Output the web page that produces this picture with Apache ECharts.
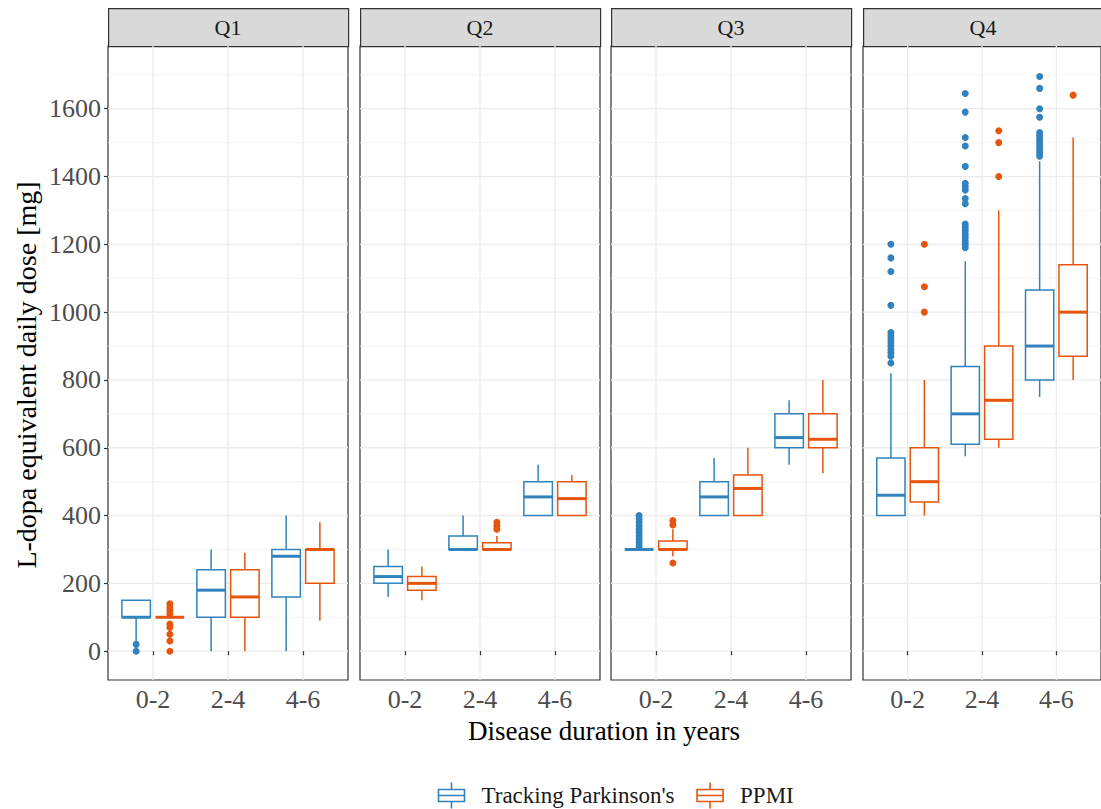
<!DOCTYPE html>
<html>
<head>
<meta charset="utf-8">
<script src="https://cdn.jsdelivr.net/npm/echarts@6/dist/echarts.min.js"></script>
<style>html,body{margin:0;padding:0;background:#fff;}#c{width:1101px;height:809px;}</style>
</head>
<body>
<div id="c"></div>
<script>
// ---------------- data ----------------
const categories = ['0-2', '2-4', '4-6'];
const panels = ['Q1', 'Q2', 'Q3', 'Q4'];
const seriesNames = ["Tracking Parkinson's", 'PPMI'];
const yTicks = [0, 200, 400, 600, 800, 1000, 1200, 1400, 1600];
const yMinor = [100, 300, 500, 700, 900, 1100, 1300, 1500, 1700];

// box stats per category: [lower whisker, Q1, median, Q3, upper whisker]
const tpQ1 = [[30, 100, 100, 150, 150], [0, 100, 180, 240, 300], [0, 160, 280, 300, 400]];
const ppQ1 = [[100, 100, 100, 100, 100], [0, 100, 160, 240, 290], [90, 200, 300, 300, 380]];
const tpQ2 = [[160, 200, 220, 250, 300], [300, 300, 300, 340, 400], [400, 400, 455, 500, 550]];
const ppQ2 = [[150, 180, 200, 220, 250], [300, 300, 300, 320, 340], [400, 400, 450, 500, 520]];
const tpQ3 = [[300, 300, 300, 300, 300], [400, 400, 455, 500, 570], [550, 600, 630, 700, 740]];
const ppQ3 = [[280, 300, 300, 325, 360], [400, 400, 480, 520, 600], [525, 600, 625, 700, 800]];
const tpQ4 = [[400, 400, 460, 570, 820], [575, 610, 700, 840, 1150], [750, 800, 900, 1065, 1445]];
const ppQ4 = [[400, 440, 500, 600, 800], [600, 625, 740, 900, 1300], [800, 870, 1000, 1140, 1515]];

// outliers per category
const tpQ1Out = [[0, 20], [], []];
const ppQ1Out = [[140, 130, 120, 110, 80, 70, 50, 30, 0], [], []];
const tpQ2Out = [[], [], []];
const ppQ2Out = [[], [360, 370, 380], []];
const tpQ3Out = [[310, 320, 330, 340, 350, 360, 370, 380, 390, 400], [], []];
const ppQ3Out = [[260, 372, 385], [], []];
const tpQ4Out = [[850, 870, 880, 890, 900, 910, 920, 930, 940, 1020, 1120, 1160, 1200],
                 [1190, 1200, 1210, 1220, 1230, 1240, 1250, 1260, 1320, 1335, 1360, 1370, 1380, 1430, 1490, 1515, 1590, 1645],
                 [1460, 1470, 1480, 1490, 1500, 1510, 1520, 1530, 1575, 1600, 1660, 1695]];
const ppQ4Out = [[1000, 1075, 1200], [1400, 1500, 1535], [1640]];

const tpBoxes = [tpQ1, tpQ2, tpQ3, tpQ4];
const ppBoxes = [ppQ1, ppQ2, ppQ3, ppQ4];
const tpOuts = [tpQ1Out, tpQ2Out, tpQ3Out, tpQ4Out];
const ppOuts = [ppQ1Out, ppQ2Out, ppQ3Out, ppQ4Out];

// ---------------- style ----------------
const COLORS = ['#3182BD', '#E6550D'];
const OFFS = [-0.225, 0.225];
const HW = 0.19;
const FONT = '"Liberation Serif", "DejaVu Serif", serif';
const GRID_LEFT = [108, 360, 611, 863];
const GRID_W = 240, GRID_TOP = 46, GRID_H = 634;

const chart = echarts.init(document.getElementById('c'), null, { renderer: 'svg' });

function boxRender(color, off) {
  return function (params, api) {
    const c = api.value(0) + off;
    const mn = api.value(1), q1 = api.value(2), md = api.value(3), q3 = api.value(4), mx = api.value(5);
    const xl = api.coord([c - HW, 0])[0], xr = api.coord([c + HW, 0])[0], xc = api.coord([c, 0])[0];
    const y = v => api.coord([c, v])[1];
    return {
      type: 'group',
      children: [
        { type: 'line', shape: { x1: xc, y1: y(q3), x2: xc, y2: y(mx) }, style: { stroke: color, lineWidth: 1.5 } },
        { type: 'line', shape: { x1: xc, y1: y(q1), x2: xc, y2: y(mn) }, style: { stroke: color, lineWidth: 1.5 } },
        { type: 'rect', shape: { x: xl, y: y(q3), width: xr - xl, height: y(q1) - y(q3) }, style: { fill: '#fff', stroke: color, lineWidth: 1.5 } },
        { type: 'line', shape: { x1: xl, y1: y(md), x2: xr, y2: y(md) }, style: { stroke: color, lineWidth: 3 } }
      ]
    };
  };
}
function outRender(color, off) {
  return function (params, api) {
    const p = api.coord([api.value(0) + off, api.value(1)]);
    return { type: 'circle', shape: { cx: p[0], cy: p[1], r: 3.5 }, style: { fill: color } };
  };
}
function gridRender(params, api) {
  const cs = params.coordSys;
  const ch = [];
  yMinor.forEach(v => {
    const yy = api.coord([2, v])[1];
    ch.push({ type: 'line', shape: { x1: cs.x, y1: yy, x2: cs.x + cs.width, y2: yy }, style: { stroke: '#F2F2F2', lineWidth: 0.8 } });
  });
  yTicks.forEach(v => {
    const yy = api.coord([2, v])[1];
    ch.push({ type: 'line', shape: { x1: cs.x, y1: yy, x2: cs.x + cs.width, y2: yy }, style: { stroke: '#EBEBEB', lineWidth: 1.3 } });
  });
  categories.forEach((_, i) => {
    const xx = api.coord([i + 1, 0])[0];
    ch.push({ type: 'line', shape: { x1: xx, y1: cs.y, x2: xx, y2: cs.y + cs.height }, style: { stroke: '#EBEBEB', lineWidth: 1.3 } });
  });
  return { type: 'group', children: ch };
}

const grids = [], xAxes = [], yAxes = [], series = [], graphics = [];
panels.forEach((name, p) => {
  grids.push({ left: GRID_LEFT[p], top: GRID_TOP, width: GRID_W, height: GRID_H, show: true, borderColor: '#333333', borderWidth: 1.2, backgroundColor: '#fff', containLabel: false });
  xAxes.push({
    gridIndex: p, type: 'value', min: 0.4, max: 3.6,
    axisLine: { show: false }, splitLine: { show: false },
    axisTick: { show: true, length: 4, lineStyle: { color: '#333333', width: 1.2 }, customValues: [1, 2, 3] },
    axisLabel: { customValues: [1, 2, 3], formatter: v => categories[Math.round(v) - 1] || '', color: '#4D4D4D', fontFamily: FONT, fontSize: 26, margin: 6 }
  });
  yAxes.push({
    gridIndex: p, type: 'value', min: -85, max: 1785,
    axisLine: { show: false }, splitLine: { show: false },
    axisTick: { show: p === 0, length: 4, lineStyle: { color: '#333333', width: 1.2 }, customValues: yTicks },
    axisLabel: { show: p === 0, customValues: yTicks, formatter: v => String(v), color: '#4D4D4D', fontFamily: FONT, fontSize: 26, margin: 7 }
  });
  series.push({ type: 'custom', xAxisIndex: p, yAxisIndex: p, data: [[0]], renderItem: gridRender, silent: true, z: 0, encode: { x: 0, y: 0 } });
  const boxes = [tpBoxes[p], ppBoxes[p]];
  const outs = [tpOuts[p], ppOuts[p]];
  [0, 1].forEach(s => {
    series.push({
      type: 'custom', name: seriesNames[s], xAxisIndex: p, yAxisIndex: p, z: 2,
      itemStyle: { color: COLORS[s] },
      data: boxes[s].map((b, i) => [i + 1].concat(b)),
      encode: { x: 0, y: [1, 2, 3, 4, 5] },
      renderItem: boxRender(COLORS[s], OFFS[s])
    });
    const od = [];
    outs[s].forEach((arr, i) => arr.forEach(v => od.push([i + 1, v])));
    series.push({
      type: 'custom', name: seriesNames[s], xAxisIndex: p, yAxisIndex: p, z: 3,
      itemStyle: { color: COLORS[s] },
      data: od, encode: { x: 0, y: 1 },
      renderItem: outRender(COLORS[s], OFFS[s])
    });
  });
  graphics.push({
    type: 'rect', left: GRID_LEFT[p], top: 8,
    shape: { width: GRID_W, height: 38 },
    style: { fill: '#D9D9D9', stroke: '#333333', lineWidth: 1.2 }
  });
  graphics.push({
    type: 'text', x: GRID_LEFT[p] + GRID_W / 2, y: 27,
    style: { text: name, fill: '#1A1A1A', font: '22px ' + FONT, textAlign: 'center', textVerticalAlign: 'middle' }
  });
});
graphics.push({
  type: 'text', x: 604, y: 731,
  style: { text: 'Disease duration in years', fill: '#000', font: '27px ' + FONT, textAlign: 'center', textVerticalAlign: 'middle' }
});
graphics.push({
  type: 'text', x: 26, y: 375, rotation: Math.PI / 2,
  style: { text: 'L-dopa equivalent daily dose [mg]', fill: '#000', font: '28px ' + FONT, textAlign: 'center', textVerticalAlign: 'middle' }
});

const ICON = 'path://M14,0 V7 M1,7 H27 V19 H1 Z M1,13 H27 M14,19 V26';

chart.setOption({
  animation: false,
  backgroundColor: '#fff',
  grid: grids,
  xAxis: xAxes,
  yAxis: yAxes,
  series: series,
  graphic: graphics,
  legend: {
    top: 780, left: 436, padding: 0,
    itemWidth: 28, itemHeight: 26, itemGap: 20,
    selectedMode: false,
    textStyle: { color: '#1A1A1A', fontFamily: FONT, fontSize: 23, padding: [0, 0, 0, 11] },
    data: seriesNames.map((n, i) => ({
      name: n, icon: ICON,
      itemStyle: { color: 'none', borderColor: COLORS[i], borderWidth: 1.6 }
    }))
  }
});
</script>
</body>
</html>
